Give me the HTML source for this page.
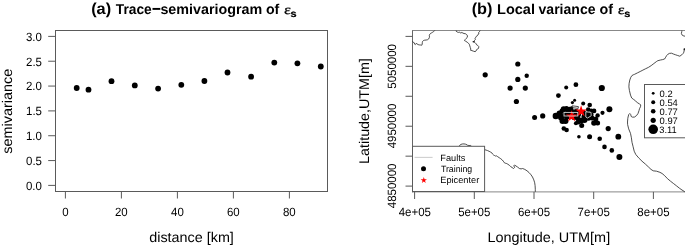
<!DOCTYPE html>
<html><head><meta charset="utf-8"><style>
html,body{margin:0;padding:0;background:#fff;}
svg{display:block;will-change:transform;text-rendering:geometricPrecision;}
text{fill:#000;}
</style></head><body>
<svg width="685" height="247" viewBox="0 0 685 247">
<rect width="685" height="247" fill="#fff"/>
<rect x="152.5" y="7.95" width="7.8" height="1.9" fill="#000"/>
<rect x="55.5" y="30.5" width="272.0" height="161.0" fill="none" stroke="#5a5a5a"/>
<line x1="48.2" y1="185.40" x2="55.5" y2="185.40" stroke="#5a5a5a"/>
<line x1="48.2" y1="160.57" x2="55.5" y2="160.57" stroke="#5a5a5a"/>
<line x1="48.2" y1="135.73" x2="55.5" y2="135.73" stroke="#5a5a5a"/>
<line x1="48.2" y1="110.90" x2="55.5" y2="110.90" stroke="#5a5a5a"/>
<line x1="48.2" y1="86.07" x2="55.5" y2="86.07" stroke="#5a5a5a"/>
<line x1="48.2" y1="61.23" x2="55.5" y2="61.23" stroke="#5a5a5a"/>
<line x1="48.2" y1="36.40" x2="55.5" y2="36.40" stroke="#5a5a5a"/>
<line x1="65.40" y1="191.5" x2="65.40" y2="198.5" stroke="#5a5a5a"/>
<line x1="121.40" y1="191.5" x2="121.40" y2="198.5" stroke="#5a5a5a"/>
<line x1="177.40" y1="191.5" x2="177.40" y2="198.5" stroke="#5a5a5a"/>
<line x1="233.40" y1="191.5" x2="233.40" y2="198.5" stroke="#5a5a5a"/>
<line x1="289.40" y1="191.5" x2="289.40" y2="198.5" stroke="#5a5a5a"/>
<circle cx="76.7" cy="88.0" r="2.9"/>
<circle cx="88.5" cy="89.7" r="2.9"/>
<circle cx="111.5" cy="81.2" r="2.9"/>
<circle cx="134.8" cy="85.4" r="2.9"/>
<circle cx="158.1" cy="88.6" r="2.9"/>
<circle cx="181.3" cy="84.8" r="2.9"/>
<circle cx="204.4" cy="81.0" r="2.9"/>
<circle cx="227.5" cy="72.5" r="2.9"/>
<circle cx="251.1" cy="76.7" r="2.9"/>
<circle cx="274.3" cy="62.6" r="2.9"/>
<circle cx="297.4" cy="63.3" r="2.9"/>
<circle cx="320.8" cy="66.5" r="2.9"/>
<line x1="412.0" y1="30.5" x2="686.5" y2="30.5" stroke="#888"/>
<line x1="412.5" y1="191.9" x2="686.5" y2="191.9" stroke="#888"/>
<line x1="412.5" y1="30.5" x2="412.5" y2="192.4" stroke="#666"/>
<line x1="405.5" y1="36.4" x2="412.5" y2="36.4" stroke="#5a5a5a"/>
<line x1="405.5" y1="66.34" x2="412.5" y2="66.34" stroke="#5a5a5a"/>
<line x1="405.5" y1="96.28" x2="412.5" y2="96.28" stroke="#5a5a5a"/>
<line x1="405.5" y1="126.22" x2="412.5" y2="126.22" stroke="#5a5a5a"/>
<line x1="405.5" y1="156.16" x2="412.5" y2="156.16" stroke="#5a5a5a"/>
<line x1="405.5" y1="186.10000000000002" x2="412.5" y2="186.10000000000002" stroke="#5a5a5a"/>
<line x1="414.60" y1="191.9" x2="414.60" y2="199" stroke="#5a5a5a"/>
<line x1="474.30" y1="191.9" x2="474.30" y2="199" stroke="#5a5a5a"/>
<line x1="534.00" y1="191.9" x2="534.00" y2="199" stroke="#5a5a5a"/>
<line x1="593.70" y1="191.9" x2="593.70" y2="199" stroke="#5a5a5a"/>
<line x1="653.40" y1="191.9" x2="653.40" y2="199" stroke="#5a5a5a"/>
<ellipse cx="473.6" cy="41.8" rx="1.1" ry="0.7" fill="#111"/>
<ellipse cx="684.4" cy="49.3" rx="0.9" ry="1.0" fill="#111"/>
<path d="M412.4,41.4 L413.2,42.2 L414.1,42.6 L414.7,44.2 L415.3,44.6 L416.1,43.4 L416.9,43.8 L418.1,44.6 L419.3,44.9 L420.5,45.0 L421.8,45.2 L422.2,44.2 L422.3,42.6 L422.6,41.4 L423.4,40.6 L424.6,40.2 L426.2,40.0 L427.4,39.8 L428.7,38.9 L429.3,37.7 L429.5,36.1 L429.3,35.3 L429.9,34.1 L430.7,33.3 L431.5,32.9 L432.7,32.2 L433.5,31.6 L434.3,31.1 L434.7,30.6" fill="none" stroke="#222" stroke-width="0.8" stroke-linejoin="round"/>
<path d="M456.1,30.6 L456.1,31.2 L457.2,32.0 L458.7,32.4 L459.8,32.2 L460.8,33.1 L461.9,32.4 L462.9,33.1 L464.0,33.5 L465.6,33.8 L466.6,34.5 L467.5,35.9 L467.2,37.5 L466.1,38.5 L465.1,39.6 L464.5,40.6 L465.6,41.2 L467.2,42.2 L468.5,43.3 L469.3,44.3 L469.8,45.9 L470.3,47.5 L470.8,49.1 L470.6,50.3 L471.9,50.6 L473.5,51.2 L475.1,51.7 L476.1,50.9 L476.6,49.6 L477.7,49.1 L478.7,48.0 L478.7,46.4 L477.7,45.4 L476.6,44.8 L476.1,43.8 L475.1,42.7 L474.0,41.7 L474.6,40.3 L475.4,39.4 L474.9,38.3 L475.9,37.4 L476.3,36.3 L477.4,35.7 L477.9,34.5 L478.9,33.9 L478.6,32.7 L479.4,31.7 L480.2,30.6" fill="none" stroke="#222" stroke-width="0.8" stroke-linejoin="round"/>
<path d="M681.8,30.6 L681.8,31.4 L681.4,33.5 L682.2,35.2 L683.9,36.0 L686.0,36.3" fill="none" stroke="#222" stroke-width="0.8" stroke-linejoin="round"/>
<path d="M686.0,48.2 L685.0,48.6 L684.2,50.0 L683.9,52.1 L683.2,53.4 L681.8,54.8 L679.8,56.2 L677.7,55.5 L675.6,54.8 L673.6,54.1 L671.5,53.2 L669.4,53.4 L668.1,54.1 L666.7,55.5 L665.7,57.2 L664.6,59.0 L662.6,59.6 L660.5,60.0 L657.8,60.7 L656.7,61.4 L653.9,63.5 L651.2,65.6 L648.4,67.4 L645.7,68.7 L642.9,70.1 L640.2,71.5 L637.4,72.9 L634.6,74.3 L633.3,74.8 L631.9,75.6 L630.8,77.3 L629.8,80.0 L629.1,83.5 L628.9,86.9 L629.4,90.4 L630.5,95.1 L631.7,98.0 L633.7,99.5 L635.6,100.9 L637.5,102.9 L639.5,103.8 L640.7,105.0 L640.5,106.7 L639.5,108.7 L639.0,110.6 L638.0,113.5 L636.6,115.5 L634.6,117.0 L632.7,117.2 L631.2,116.5 L630.7,114.5 L629.8,113.5 L628.8,114.5 L628.3,116.0 L627.8,118.4 L627.5,122.0 L627.6,124.5 L628.7,128.9 L630.5,133.4 L631.4,137.8 L632.0,142.3 L633.1,146.7 L634.2,151.2 L635.8,154.5 L638.7,157.9 L642.0,161.2 L645.4,164.1 L648.3,166.8 L651.0,169.4 L653.2,170.8 L656.5,171.2 L659.9,172.3 L662.1,173.5 L664.5,175.5 L667.5,178.7 L670.5,181.2 L673.6,183.6 L676.7,186.0 L679.7,188.4 L682.0,190.0 L684.5,191.6 L686.0,192.5" fill="none" stroke="#222" stroke-width="0.8" stroke-linejoin="round"/>
<path d="M484.5,149.6 L486.1,150.1 L487.6,150.6 L489.1,151.3 L490.6,152.1 L491.6,152.6 L492.6,154.1 L493.7,155.1 L494.7,155.6 L495.7,156.1 L496.7,155.9 L497.7,156.7 L499.2,157.7 L500.7,158.7 L502.3,160.0 L503.3,161.2 L504.3,162.7 L505.3,163.2 L506.3,163.4 L507.8,164.2 L509.4,165.3 L510.9,166.8 L512.1,167.5 L513.5,168.5 L514.6,167.5 L513.8,165.8 L514.6,165.0 L516.0,166.0 L517.5,167.0 L519.4,168.5 L521.1,168.9 L522.6,168.5 L524.8,169.4 L527.0,170.8 L529.1,172.6 L531.0,174.8 L532.5,177.0 L533.8,179.9 L534.7,182.8 L535.1,185.7 L535.3,189.3 L535.3,191.8" fill="none" stroke="#222" stroke-width="0.8" stroke-linejoin="round"/>
<path d="M459.4,146.2 L459.6,145.4 L461.0,144.4 L462.2,144.0 L464.0,143.9 L465.6,144.2 L467.0,144.8 L467.6,145.3 L469.0,145.5 L470.8,145.6 L471.5,146.2" fill="none" stroke="#222" stroke-width="0.8" stroke-linejoin="round"/>
<circle cx="517.8" cy="64.0" r="2.6"/>
<circle cx="485.2" cy="74.8" r="2.6"/>
<circle cx="526.7" cy="75.8" r="2.2"/>
<circle cx="517.8" cy="79.4" r="2.6"/>
<circle cx="510.1" cy="88.1" r="2.6"/>
<circle cx="525.3" cy="88.1" r="2.6"/>
<circle cx="516.4" cy="101.5" r="2.6"/>
<circle cx="566.2" cy="87.5" r="2.0"/>
<circle cx="575.9" cy="84.7" r="2.4"/>
<circle cx="601.8" cy="88.0" r="3.1"/>
<circle cx="558.4" cy="95.6" r="2.4"/>
<circle cx="574.6" cy="100.2" r="1.5"/>
<circle cx="572.4" cy="102.6" r="1.6"/>
<circle cx="583.2" cy="103.6" r="2.0"/>
<circle cx="589.7" cy="105.0" r="2.3"/>
<circle cx="609.4" cy="109.2" r="3.0"/>
<circle cx="594.0" cy="110.9" r="2.4"/>
<circle cx="602.5" cy="112.8" r="2.1"/>
<circle cx="597.6" cy="115.4" r="2.2"/>
<circle cx="595.8" cy="119.0" r="2.5"/>
<circle cx="594.0" cy="123.0" r="2.8"/>
<circle cx="597.6" cy="123.0" r="2.5"/>
<circle cx="608.2" cy="128.6" r="2.6"/>
<circle cx="534.6" cy="117.4" r="2.5"/>
<circle cx="542.7" cy="115.9" r="2.6"/>
<circle cx="555.8" cy="116.0" r="3.2"/>
<circle cx="563.8" cy="128.5" r="2.3"/>
<circle cx="566.6" cy="130.0" r="2.3"/>
<circle cx="578.9" cy="136.7" r="1.8"/>
<circle cx="589.6" cy="136.7" r="2.5"/>
<circle cx="599.7" cy="138.8" r="2.3"/>
<circle cx="618.3" cy="136.7" r="2.9"/>
<circle cx="604.5" cy="146.9" r="2.3"/>
<circle cx="611.8" cy="150.4" r="2.3"/>
<circle cx="619.4" cy="156.9" r="3.0"/>
<circle cx="563.7" cy="109.3" r="3.0"/>
<circle cx="566.5" cy="108.5" r="2.5"/>
<circle cx="569.4" cy="109.3" r="2.5"/>
<circle cx="559.5" cy="113.5" r="3.0"/>
<circle cx="561.0" cy="117.5" r="3.0"/>
<circle cx="562.5" cy="121.0" r="3.0"/>
<circle cx="565.5" cy="121.0" r="3.0"/>
<circle cx="567.0" cy="117.0" r="2.5"/>
<circle cx="575.9" cy="123.3" r="2.0"/>
<circle cx="581.7" cy="125.6" r="2.5"/>
<circle cx="581.0" cy="120.5" r="3.0"/>
<circle cx="584.5" cy="120.0" r="3.0"/>
<circle cx="588.5" cy="118.0" r="2.8"/>
<circle cx="577.5" cy="118.0" r="2.5"/>
<circle cx="591.0" cy="114.5" r="2.5"/>
<circle cx="584.0" cy="116.5" r="2.5"/>
<circle cx="571" cy="111" r="3"/>
<circle cx="576" cy="112" r="3"/>
<circle cx="578" cy="114.5" r="3"/>
<circle cx="574" cy="117" r="3"/>
<circle cx="568" cy="113" r="3"/>
<circle cx="562" cy="111" r="2.5"/>
<circle cx="584" cy="113" r="2.5"/>
<circle cx="588" cy="113.5" r="2.2"/>
<circle cx="592" cy="118" r="2.5"/>
<circle cx="578" cy="122" r="2.5"/>
<circle cx="565" cy="115" r="3"/>
<circle cx="588.2" cy="109.6" r="2.3"/>
<circle cx="591.2" cy="110.6" r="2.0"/>
<circle cx="587.5" cy="114.5" r="2.5"/>
<circle cx="589.5" cy="116.2" r="2.0"/>
<circle cx="571.5" cy="108.0" r="1.8"/>
<path d="M571.70,110.20 L573.07,114.41 L577.50,114.41 L573.92,117.02 L575.29,121.24 L571.70,118.63 L568.11,121.24 L569.48,117.02 L565.90,114.41 L570.33,114.41Z" fill="#f00"/>
<path d="M581.10,105.20 L582.47,109.41 L586.90,109.41 L583.32,112.02 L584.69,116.24 L581.10,113.63 L577.51,116.24 L578.88,112.02 L575.30,109.41 L579.73,109.41Z" fill="#f00"/>
<path d="M572.2,105.8 L578.4,106.6 L578.2,108.4 L572,107.6Z" fill="none" stroke="#222" stroke-width="0.8"/>
<rect x="564" y="112.4" width="13.8" height="3.6" fill="none" stroke="#d4d4d4" stroke-width="0.9"/>
<path d="M585.8,111.8 L591,112.4 L591.2,115.8 L587.5,118 L585.8,117Z" fill="none" stroke="#d4d4d4" stroke-width="0.9"/>
<rect x="644.5" y="84.5" width="60" height="53.3" fill="#fff" stroke="#5a5a5a"/>
<circle cx="653.2" cy="93.3" r="1.4"/>
<circle cx="653.2" cy="102.3" r="2.0"/>
<circle cx="653.2" cy="111.3" r="2.3"/>
<circle cx="653.2" cy="120.3" r="2.6"/>
<circle cx="653.2" cy="129.3" r="4.8"/>
<rect x="412.5" y="146.3" width="72.1" height="45.2" fill="#fff" stroke="#5a5a5a"/>
<line x1="414.6" y1="157.4" x2="432.6" y2="157.4" stroke="#cfcfcf" stroke-width="1.1"/>
<circle cx="423.5" cy="168.8" r="2.5"/>
<path d="M423.80,177.00 L424.54,179.28 L426.94,179.28 L425.00,180.69 L425.74,182.97 L423.80,181.56 L421.86,182.97 L422.60,180.69 L420.66,179.28 L423.06,179.28Z" fill="#f00"/>
<text transform="translate(92.00,13.90) scale(1.0218,1)" x="-0.82" y="0" font-family="Liberation Sans" font-size="16" font-weight="bold">(a)</text>
<text transform="translate(116.00,13.75) scale(0.9684,1)" x="-0.16" y="0" font-family="Liberation Sans" font-size="14.2" font-weight="bold">Trace</text>
<text transform="translate(161.10,13.75) scale(1.0086,1)" x="-0.73" y="0" font-family="Liberation Sans" font-size="14.2" font-weight="bold">semivariogram</text>
<text transform="translate(266.50,13.75) scale(1.0016,1)" x="-0.61" y="0" font-family="Liberation Sans" font-size="14.2" font-weight="bold">of</text>
<text transform="translate(284.60,13.90) skewX(-3) scale(1.1638,1)" x="-0.56" y="0" font-family="Liberation Serif" font-size="13.5" stroke="#000" stroke-width="0.3">ε</text>
<text transform="translate(291.10,17.00) scale(1.0889,1)" x="-0.61" y="0" font-family="Liberation Sans" font-size="10" font-weight="bold" stroke="#000" stroke-width="0.25">s</text>
<text transform="translate(472.50,13.90) scale(1.0177,1)" x="-0.82" y="0" font-family="Liberation Sans" font-size="16" font-weight="bold">(b)</text>
<text transform="translate(498.00,13.75) scale(1.0237,1)" x="-0.95" y="0" font-family="Liberation Sans" font-size="14.2" font-weight="bold">Local</text>
<text transform="translate(539.00,13.75) scale(0.9885,1)" x="-0.44" y="0" font-family="Liberation Sans" font-size="14.2" font-weight="bold">variance</text>
<text transform="translate(600.00,13.75) scale(1.0093,1)" x="-0.61" y="0" font-family="Liberation Sans" font-size="14.2" font-weight="bold">of</text>
<text transform="translate(618.50,13.90) skewX(-3) scale(1.1638,1)" x="-0.56" y="0" font-family="Liberation Serif" font-size="13.5" stroke="#000" stroke-width="0.3">ε</text>
<text transform="translate(625.00,17.00) scale(1.0889,1)" x="-0.61" y="0" font-family="Liberation Sans" font-size="10" font-weight="bold" stroke="#000" stroke-width="0.25">s</text>
<text transform="translate(26.41,189.70) scale(0.9550,1)" x="-0.46" y="0" font-family="Liberation Sans" font-size="12">0.0</text>
<text transform="translate(26.44,164.87) scale(0.9550,1)" x="-0.46" y="0" font-family="Liberation Sans" font-size="12">0.5</text>
<text transform="translate(26.85,140.03) scale(0.9550,1)" x="-0.92" y="0" font-family="Liberation Sans" font-size="12">1.0</text>
<text transform="translate(26.88,115.20) scale(0.9550,1)" x="-0.92" y="0" font-family="Liberation Sans" font-size="12">1.5</text>
<text transform="translate(26.57,90.37) scale(0.9550,1)" x="-0.63" y="0" font-family="Liberation Sans" font-size="12">2.0</text>
<text transform="translate(26.61,65.53) scale(0.9550,1)" x="-0.63" y="0" font-family="Liberation Sans" font-size="12">2.5</text>
<text transform="translate(26.50,40.70) scale(0.9550,1)" x="-0.56" y="0" font-family="Liberation Sans" font-size="12">3.0</text>
<text transform="translate(62.68,216.00) scale(0.9550,1)" x="-0.46" y="0" font-family="Liberation Sans" font-size="12">0</text>
<text transform="translate(115.49,216.00) scale(0.9550,1)" x="-0.63" y="0" font-family="Liberation Sans" font-size="12">20</text>
<text transform="translate(171.28,216.00) scale(0.9550,1)" x="-0.19" y="0" font-family="Liberation Sans" font-size="12">40</text>
<text transform="translate(227.49,216.00) scale(0.9550,1)" x="-0.62" y="0" font-family="Liberation Sans" font-size="12">60</text>
<text transform="translate(283.45,216.00) scale(0.9550,1)" x="-0.53" y="0" font-family="Liberation Sans" font-size="12">80</text>
<text transform="translate(149.90,242.00) scale(1.0254,1)" x="-0.63" y="0" font-family="Liberation Sans" font-size="14">distance [km]</text>
<text transform="translate(11.90,153.00) rotate(-90) scale(1.0299,1)" x="-0.61" y="0" font-family="Liberation Sans" font-size="14">semivariance</text>
<text transform="translate(396.10,88.05) rotate(-90) scale(0.9550,1)" x="-0.70" y="0" font-family="Liberation Sans" font-size="12">5050000</text>
<text transform="translate(396.10,148.17) rotate(-90) scale(0.9550,1)" x="-0.19" y="0" font-family="Liberation Sans" font-size="12">4950000</text>
<text transform="translate(396.10,208.05) rotate(-90) scale(0.9550,1)" x="-0.19" y="0" font-family="Liberation Sans" font-size="12">4850000</text>
<text transform="translate(398.88,215.80) scale(0.9550,1)" x="-0.19" y="0" font-family="Liberation Sans" font-size="12">4e+05</text>
<text transform="translate(458.82,215.80) scale(0.9550,1)" x="-0.70" y="0" font-family="Liberation Sans" font-size="12">5e+05</text>
<text transform="translate(518.48,215.80) scale(0.9550,1)" x="-0.62" y="0" font-family="Liberation Sans" font-size="12">6e+05</text>
<text transform="translate(578.17,215.80) scale(0.9550,1)" x="-0.60" y="0" font-family="Liberation Sans" font-size="12">7e+05</text>
<text transform="translate(637.84,215.80) scale(0.9550,1)" x="-0.53" y="0" font-family="Liberation Sans" font-size="12">8e+05</text>
<text transform="translate(488.60,242.00) scale(1.0311,1)" x="-1.18" y="0" font-family="Liberation Sans" font-size="14">Longitude, UTM[m]</text>
<text transform="translate(369.20,162.70) rotate(-90) scale(1.0217,1)" x="-1.18" y="0" font-family="Liberation Sans" font-size="14">Latitude,UTM[m]</text>
<text transform="translate(659.80,96.80) scale(1.0000,1)" x="-0.22" y="0" font-family="Liberation Sans" font-size="9.4">0.2</text>
<text transform="translate(659.80,105.80) scale(1.0000,1)" x="-0.22" y="0" font-family="Liberation Sans" font-size="9.4">0.54</text>
<text transform="translate(659.80,114.80) scale(1.0000,1)" x="-0.22" y="0" font-family="Liberation Sans" font-size="9.4">0.77</text>
<text transform="translate(659.80,123.80) scale(1.0000,1)" x="-0.22" y="0" font-family="Liberation Sans" font-size="9.4">0.97</text>
<text transform="translate(659.80,132.80) scale(1.0000,1)" x="-0.55" y="0" font-family="Liberation Sans" font-size="9.4">3.11</text>
<text transform="translate(441.00,160.50) scale(1.0000,1)" x="-0.68" y="0" font-family="Liberation Sans" font-size="9.2">Faults</text>
<text transform="translate(441.10,172.00) scale(0.9539,1)" x="-0.22" y="0" font-family="Liberation Sans" font-size="9.2">Training</text>
<text transform="translate(441.00,183.40) scale(1.0047,1)" x="-0.72" y="0" font-family="Liberation Sans" font-size="9.2">Epicenter</text>
</svg>
</body></html>
